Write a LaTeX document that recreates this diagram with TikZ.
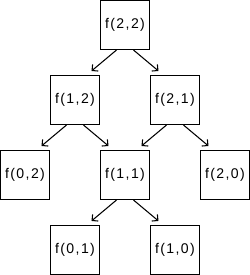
\documentclass[tikz,border=0pt]{standalone}
\usepackage{fontspec}
\setmainfont{Liberation Sans}
\newfontfamily\boxfont[LetterSpace=10]{Liberation Sans}
\usetikzlibrary{arrows.meta}

\begin{document}
\begin{tikzpicture}[
line width=0.6pt,
box/.style={draw, rectangle, minimum width=0.98cm, minimum height=0.98cm, inner sep=0pt, font=\boxfont\fontsize{8}{9}\selectfont},
arrow/.style={-{Straight Barb[length=2.5pt, width=5pt]}}
]
\useasboundingbox (0,0.5) rectangle (5,-5);

\node[box] (f22) at (2.5,0) {f(2,2)};

\node[box] (f12) at (1.5,-1.5) {f(1,2)};
\node[box] (f21) at (3.5,-1.5) {f(2,1)};

\node[box] (f02) at (0.5,-3) {f(0,2)};
\node[box] (f11) at (2.5,-3) {f(1,1)};
\node[box] (f20) at (4.5,-3) {f(2,0)};

\node[box] (f01) at (1.5,-4.5) {f(0,1)};
\node[box] (f10) at (3.5,-4.5) {f(1,0)};

\draw[arrow] ([xshift=-0.17cm]f22.south) -- ([xshift=0.33cm, yshift=0.08cm]f12.north);
\draw[arrow] ([xshift=0.17cm]f22.south) -- ([xshift=-0.33cm, yshift=0.08cm]f21.north);
\draw[arrow] ([xshift=-0.17cm]f12.south) -- ([xshift=0.33cm, yshift=0.08cm]f02.north);
\draw[arrow] ([xshift=0.17cm]f12.south) -- ([xshift=-0.33cm, yshift=0.08cm]f11.north);
\draw[arrow] ([xshift=-0.17cm]f21.south) -- ([xshift=0.33cm, yshift=0.08cm]f11.north);
\draw[arrow] ([xshift=0.17cm]f21.south) -- ([xshift=-0.33cm, yshift=0.08cm]f20.north);
\draw[arrow] ([xshift=-0.17cm]f11.south) -- ([xshift=0.33cm, yshift=0.08cm]f01.north);
\draw[arrow] ([xshift=0.17cm]f11.south) -- ([xshift=-0.33cm, yshift=0.08cm]f10.north);

\end{tikzpicture}
\end{document}
